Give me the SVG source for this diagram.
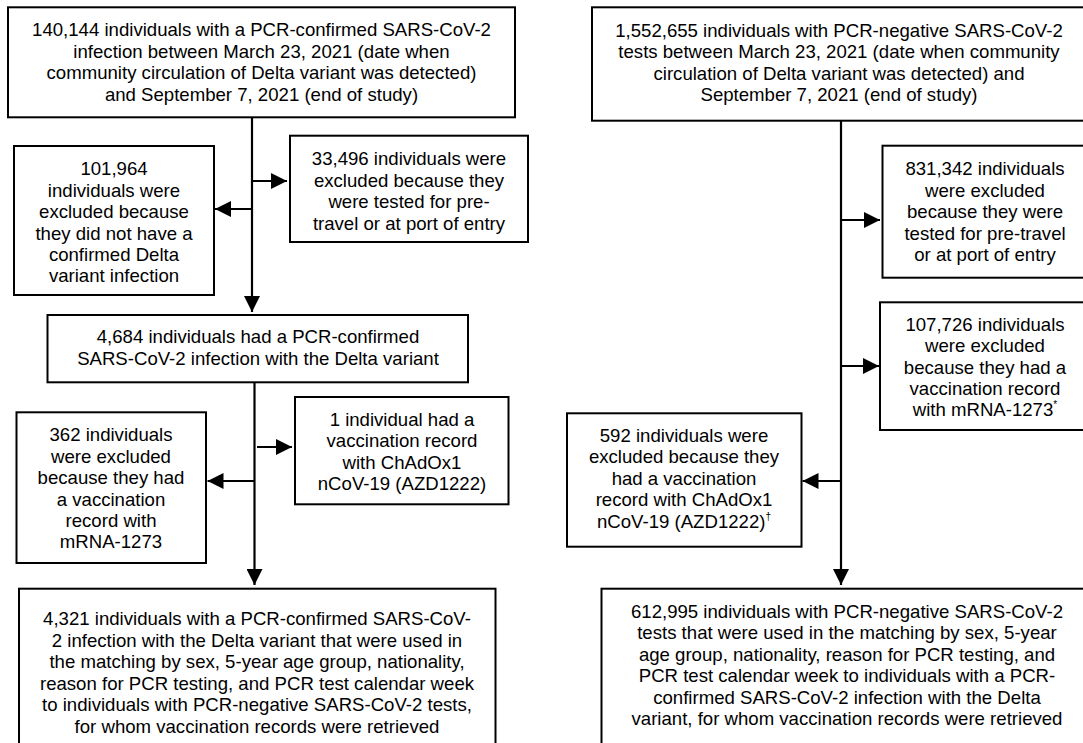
<svg xmlns="http://www.w3.org/2000/svg" width="1083" height="743" viewBox="0 0 1083 743">
<defs>
<style>
.box{fill:#fff;stroke:#000;stroke-width:2}
.t{font-family:"Liberation Sans",Arial,sans-serif;font-size:18.6px;text-anchor:middle;fill:#000}
.c{fill:none;stroke:#000;stroke-width:2.2}
.sup{font-size:10px}
</style>
<marker id="ah" markerUnits="userSpaceOnUse" markerWidth="16" markerHeight="16" viewBox="0 0 15 15" refX="15" refY="7.5" orient="auto">
<path d="M0,0 L15,7.5 L0,15 z" fill="#000"/>
</marker>
</defs>
<rect width="1083" height="743" fill="#fff"/>
<g id="connectors">
<path class="c" d="M252,117 V312" marker-end="url(#ah)"/>
<path class="c" d="M252,181 H287" marker-end="url(#ah)"/>
<path class="c" d="M252,209 H215" marker-end="url(#ah)"/>
<path class="c" d="M254.5,382 V585" marker-end="url(#ah)"/>
<path class="c" d="M257,447 H292" marker-end="url(#ah)"/>
<path class="c" d="M254.5,481 H207.5" marker-end="url(#ah)"/>
<path class="c" d="M841,120 V585" marker-end="url(#ah)"/>
<path class="c" d="M841,220 H880" marker-end="url(#ah)"/>
<path class="c" d="M841,366 H879" marker-end="url(#ah)"/>
<path class="c" d="M841,481 H802.5" marker-end="url(#ah)"/>
</g>
<g id="nA">
<rect class="box" x="8" y="7.3" width="507" height="110"/>
<text class="t"><tspan x="261.5" y="35.8">140,144 individuals with a PCR-confirmed SARS-CoV-2</tspan><tspan x="261.5" y="57.5">infection between March 23, 2021 (date when</tspan><tspan x="261.5" y="79.2">community circulation of Delta variant was detected)</tspan><tspan x="261.5" y="100.8">and September 7, 2021 (end of study)</tspan></text>
</g>
<g id="nB">
<rect class="box" x="14" y="146" width="200" height="149"/>
<text class="t"><tspan x="114" y="175">101,964</tspan><tspan x="114" y="196.5">individuals were</tspan><tspan x="114" y="218">excluded because</tspan><tspan x="114" y="239.5">they did not have a</tspan><tspan x="114" y="261">confirmed Delta</tspan><tspan x="114" y="282">variant infection</tspan></text>
</g>
<g id="nC">
<rect class="box" x="290" y="135.7" width="238" height="106.3"/>
<text class="t"><tspan x="409" y="165">33,496 individuals were</tspan><tspan x="409" y="186.5">excluded because they</tspan><tspan x="409" y="208">were tested for pre-</tspan><tspan x="409" y="229.5">travel or at port of entry</tspan></text>
</g>
<g id="nD">
<rect class="box" x="47.5" y="315" width="420.5" height="67.3"/>
<text class="t"><tspan x="258" y="343">4,684 individuals had a PCR-confirmed</tspan><tspan x="258" y="365">SARS-CoV-2 infection with the Delta variant</tspan></text>
</g>
<g id="nE">
<rect class="box" x="16.5" y="412.3" width="189.5" height="150.7"/>
<text class="t"><tspan x="111" y="441">362 individuals</tspan><tspan x="111" y="462.5">were excluded</tspan><tspan x="111" y="484">because they had</tspan><tspan x="111" y="505.5">a vaccination</tspan><tspan x="111" y="527">record with</tspan><tspan x="111" y="548">mRNA-1273</tspan></text>
</g>
<g id="nF">
<rect class="box" x="295" y="397" width="213.5" height="107.3"/>
<text class="t"><tspan x="402" y="425.5">1 individual had a</tspan><tspan x="402" y="447">vaccination record</tspan><tspan x="402" y="468.5">with ChAdOx1</tspan><tspan x="402" y="490">nCoV-19 (AZD1222)</tspan></text>
</g>
<g id="nG">
<rect class="box" x="19" y="588.7" width="476.5" height="170"/>
<text class="t"><tspan x="257" y="625">4,321 individuals with a PCR-confirmed SARS-CoV-</tspan><tspan x="257" y="646.5">2 infection with the Delta variant that were used in</tspan><tspan x="257" y="668">the matching by sex, 5-year age group, nationality,</tspan><tspan x="257" y="689.5">reason for PCR testing, and PCR test calendar week</tspan><tspan x="257" y="711">to individuals with PCR-negative SARS-CoV-2 tests,</tspan><tspan x="257" y="733">for whom vaccination records were retrieved</tspan></text>
</g>
<g id="nH">
<rect class="box" x="592" y="7.3" width="496" height="113.4"/>
<text class="t"><tspan x="839" y="36.5">1,552,655 individuals with PCR-negative SARS-CoV-2</tspan><tspan x="839" y="58">tests between March 23, 2021 (date when community</tspan><tspan x="839" y="79.5">circulation of Delta variant was detected) and</tspan><tspan x="839" y="101">September 7, 2021 (end of study)</tspan></text>
</g>
<g id="nI">
<rect class="box" x="882.5" y="145.7" width="206" height="132"/>
<text class="t"><tspan x="985" y="175">831,342 individuals</tspan><tspan x="985" y="196.5">were excluded</tspan><tspan x="985" y="218">because they were</tspan><tspan x="985" y="239.5">tested for pre-travel</tspan><tspan x="985" y="261">or at port of entry</tspan></text>
</g>
<g id="nJ">
<rect class="box" x="880" y="302.3" width="208.5" height="127.7"/>
<text class="t"><tspan x="985" y="330.5">107,726 individuals</tspan><tspan x="985" y="352">were excluded</tspan><tspan x="985" y="373.5">because they had a</tspan><tspan x="985" y="395">vaccination record</tspan><tspan x="985" y="416">with mRNA-1273<tspan class="sup" dy="-8">*</tspan></tspan></text>
</g>
<g id="nK">
<rect class="box" x="567" y="413.3" width="234.5" height="133.4"/>
<text class="t"><tspan x="684" y="441.5">592 individuals were</tspan><tspan x="684" y="463">excluded because they</tspan><tspan x="684" y="484.5">had a vaccination</tspan><tspan x="684" y="506">record with ChAdOx1</tspan><tspan x="684" y="527.5">nCoV-19 (AZD1222)<tspan class="sup" dy="-8">†</tspan></tspan></text>
</g>
<g id="nL">
<rect class="box" x="601.5" y="588.7" width="491" height="170"/>
<text class="t"><tspan x="847" y="617.5">612,995 individuals with PCR-negative SARS-CoV-2</tspan><tspan x="847" y="639">tests that were used in the matching by sex, 5-year</tspan><tspan x="847" y="660.5">age group, nationality, reason for PCR testing, and</tspan><tspan x="847" y="682">PCR test calendar week to individuals with a PCR-</tspan><tspan x="847" y="703.5">confirmed SARS-CoV-2 infection with the Delta</tspan><tspan x="847" y="725">variant, for whom vaccination records were retrieved</tspan></text>
</g>
</svg>
